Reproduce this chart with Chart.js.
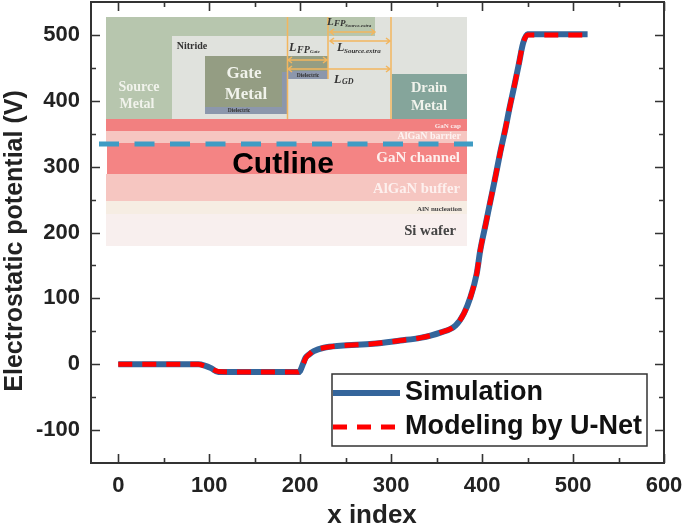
<!DOCTYPE html>
<html>
<head>
<meta charset="utf-8">
<title>Electrostatic potential</title>
<script src="https://cdn.jsdelivr.net/npm/chart.js@4"></script>
<style>
  html, body { margin: 0; background: #fff; }
  canvas { display: block; }
</style>
</head>
<body>
<canvas id="chart" width="685" height="527"></canvas>
<script>
const xIndex = [0, 60, 88, 95, 102, 110, 130, 160, 198, 200, 203, 206, 210, 215, 226, 244, 280, 310, 332, 354, 371, 380, 387, 394, 398, 404, 409, 415, 420, 426, 430, 435, 440, 445, 450, 455, 480, 516];
const simulation = [0, 0, 0, -2, -6, -12, -12, -12, -12, -10, 0, 10, 15, 20, 25, 28, 31, 36, 40, 48, 59, 77, 101, 137, 173, 213, 247, 287, 322, 360, 388, 420, 453, 487, 501, 501, 501, 501];
const modeling = [0, 0, 0, -3, -7, -11, -12, -12, -12, -10, -1, 9, 15, 21, 25, 28, 31, 36, 40, 48, 59, 77, 101, 137, 173, 213, 247, 287, 322, 360, 388, 420, 453, 487, 500, 500, 500, 500];
const seriesNames = ['Simulation', 'Modeling by U-Net'];
const xTicks = [0, 100, 200, 300, 400, 500, 600];
const yTicks = [-100, 0, 100, 200, 300, 400, 500];

const FONT = '"Liberation Sans", Arial, sans-serif';
const SERIF = '"Liberation Serif", "Times New Roman", serif';

function toPoints(ys) {
  return xIndex.map((x, i) => ({ x: x, y: ys[i] }));
}

// the device sketch pasted over the top left of the plot
function drawInset(ctx) {
  const box = (x, y, w, h, c) => { ctx.fillStyle = c; ctx.fillRect(x, y, w, h); };
  const label = (s, x, y, font, c, align) => {
    ctx.font = font;
    ctx.fillStyle = c;
    ctx.textAlign = align || 'center';
    ctx.textBaseline = 'middle';
    ctx.fillText(s, x, y);
  };
  const arrow = (x1, x2, y) => {
    ctx.beginPath();
    ctx.moveTo(x1, y); ctx.lineTo(x2, y);
    ctx.moveTo(x1 + 4, y - 3); ctx.lineTo(x1, y); ctx.lineTo(x1 + 4, y + 3);
    ctx.moveTo(x2 - 4, y - 3); ctx.lineTo(x2, y); ctx.lineTo(x2 - 4, y + 3);
    ctx.stroke();
  };

  ctx.save();
  ctx.filter = 'blur(0.5px)';

  box(106, 17, 361, 102, '#e0e2dd');
  box(106, 17, 66, 102, '#b7c6ae');
  box(106, 17, 269, 19, '#b7c6ae');
  box(205, 56, 82, 58, '#949d83');
  box(205, 107, 82, 7, '#8c97ac');
  box(282, 72, 5, 35, '#8c97ac');
  box(287, 56, 41, 15, '#949d83');
  box(287, 71, 41, 8, '#8c97ac');
  box(392, 74, 75, 45, '#85a59b');

  box(106, 119, 361, 12, '#f28080');
  box(106, 131, 361, 12, '#f6c6c1');
  box(107, 143, 360, 31, '#f48484');
  box(106, 174, 361, 27, '#f6c6c1');
  box(106, 201, 361, 13, '#f6ede3');
  box(106, 214, 361, 32, '#f8efee');

  ctx.strokeStyle = '#f2b65f';
  ctx.lineWidth = 1.5;
  ctx.beginPath();
  ctx.moveTo(287.5, 17); ctx.lineTo(287.5, 119);
  ctx.moveTo(328, 17); ctx.lineTo(328, 79);
  ctx.moveTo(391, 17); ctx.lineTo(391, 119);
  ctx.stroke();
  arrow(330, 375, 32);
  arrow(330, 390, 41);
  arrow(288, 327, 60);
  arrow(288, 390, 69);

  label('Source', 139, 87, 'bold 14px ' + SERIF, '#f1f3ec');
  label('Metal', 137, 104, 'bold 14px ' + SERIF, '#f1f3ec');
  label('Gate', 244, 74, 'bold 17px ' + SERIF, '#f1f3ec');
  label('Metal', 246, 95, 'bold 17px ' + SERIF, '#f1f3ec');
  label('Drain', 429, 88, 'bold 14.5px ' + SERIF, '#f1f3ec');
  label('Metal', 429, 106, 'bold 14.5px ' + SERIF, '#f1f3ec');
  label('Nitride', 192, 46, 'bold 10px ' + SERIF, '#333');
  label('Dielectric', 239, 111, 'bold 5.5px ' + SERIF, '#333');
  label('Dielectric', 308, 76, 'bold 5.5px ' + SERIF, '#333');

  label('L', 289, 48, 'italic bold 12px ' + SERIF, '#333', 'left');
  label('FP', 297, 50, 'italic bold 10px ' + SERIF, '#333', 'left');
  label('Gate', 310, 52, 'italic bold 5px ' + SERIF, '#333', 'left');
  label('L', 327, 22, 'italic bold 11px ' + SERIF, '#333', 'left');
  label('FP', 334, 24, 'italic bold 9px ' + SERIF, '#333', 'left');
  label('Source.extra', 345, 26, 'italic bold 5px ' + SERIF, '#333', 'left');
  label('L', 337, 48, 'italic bold 12px ' + SERIF, '#333', 'left');
  label('Source.extra', 344, 51, 'italic bold 7px ' + SERIF, '#333', 'left');
  label('L', 334, 80, 'italic bold 12px ' + SERIF, '#333', 'left');
  label('GD', 342, 82, 'italic bold 8px ' + SERIF, '#333', 'left');

  label('GaN cap', 461, 126, 'bold 7px ' + SERIF, '#fbeaea', 'right');
  label('AlGaN barrier', 461, 136, 'bold 10px ' + SERIF, '#fdf3f1', 'right');
  label('GaN channel', 460, 158, 'bold 15px ' + SERIF, '#fdf0ee', 'right');
  label('AlGaN buffer', 460, 189, 'bold 14.7px ' + SERIF, '#fdf0ee', 'right');
  label('AlN nucleation', 462, 209, 'bold 7px ' + SERIF, '#444', 'right');
  label('Si wafer', 456, 231, 'bold 14.7px ' + SERIF, '#444', 'right');

  ctx.filter = 'none';
  ctx.strokeStyle = '#3f9cc4';
  ctx.lineWidth = 5;
  ctx.setLineDash([20, 15.5]);
  ctx.beginPath();
  ctx.moveTo(99, 144); ctx.lineTo(473, 144);
  ctx.stroke();
  ctx.setLineDash([]);
  label('Cutline', 283, 165, 'bold 30px ' + FONT, '#000');
  ctx.restore();
}

function drawFrameAndTicks(chart) {
  const ctx = chart.ctx;
  const a = chart.chartArea;
  const xs = chart.scales.x;
  const ys = chart.scales.y;
  ctx.save();
  ctx.strokeStyle = '#333';
  ctx.lineWidth = 1.6;
  ctx.beginPath();
  for (let v = 0; v <= 600; v += 50) {
    const len = v % 100 === 0 ? 9 : 5;
    const p = Math.round(xs.getPixelForValue(v)) + 0.5;
    ctx.moveTo(p, a.bottom); ctx.lineTo(p, a.bottom - len);
    ctx.moveTo(p, a.top); ctx.lineTo(p, a.top + len);
  }
  for (let v = -100; v <= 500; v += 50) {
    const len = v % 100 === 0 ? 9 : 5;
    const p = Math.round(ys.getPixelForValue(v)) + 0.5;
    ctx.moveTo(a.left, p); ctx.lineTo(a.left + len, p);
    ctx.moveTo(a.right, p); ctx.lineTo(a.right - len, p);
  }
  ctx.stroke();
  ctx.lineWidth = 2;
  ctx.strokeRect(a.left, a.top, a.right - a.left, a.bottom - a.top);
  ctx.restore();
}

// axis titles sit off centre in the original, so they are placed by hand
function drawAxisTitles(ctx) {
  ctx.save();
  ctx.fillStyle = '#222';
  ctx.textAlign = 'center';
  ctx.textBaseline = 'alphabetic';
  ctx.font = 'bold 26px ' + FONT;
  ctx.fillText('x index', 372, 523);
  ctx.translate(22, 241);
  ctx.rotate(-Math.PI / 2);
  ctx.font = 'bold 25px ' + FONT;
  ctx.fillText('Electrostatic potential (V)', 0, 0);
  ctx.restore();
}

function drawLegendBox(chart) {
  const ctx = chart.ctx;
  const sets = chart.data.datasets;
  ctx.save();
  ctx.fillStyle = '#fff';
  ctx.fillRect(332, 374, 315, 72);
  ctx.strokeStyle = '#333';
  ctx.lineWidth = 1.5;
  ctx.strokeRect(332, 374, 315, 72);
  const rows = [393, 427];
  sets.forEach((ds, i) => {
    ctx.strokeStyle = ds.borderColor;
    ctx.lineWidth = ds.borderWidth;
    ctx.setLineDash(ds.borderDash || []);
    ctx.beginPath();
    ctx.moveTo(333, rows[i]); ctx.lineTo(400, rows[i]);
    ctx.stroke();
    ctx.setLineDash([]);
    ctx.fillStyle = '#111';
    ctx.font = 'bold 27px ' + FONT;
    ctx.textAlign = 'left';
    ctx.textBaseline = 'middle';
    ctx.fillText(ds.label, 405, rows[i]);
  });
  ctx.restore();
}

const sketchPlugin = {
  id: 'sketch',
  beforeDatasetsDraw(chart) { drawInset(chart.ctx); },
  afterDraw(chart) {
    drawFrameAndTicks(chart);
    drawAxisTitles(chart.ctx);
    drawLegendBox(chart);
  }
};

new Chart(document.getElementById('chart'), {
  type: 'line',
  data: {
    datasets: [
      { label: seriesNames[0], data: toPoints(simulation), borderColor: '#34659b', borderWidth: 6, order: 2 },
      { label: seriesNames[1], data: toPoints(modeling), borderColor: '#ff0000', borderWidth: 5, borderDash: [14, 10], order: 1 }
    ]
  },
  options: {
    responsive: false,
    animation: false,
    layout: { padding: { top: 2, right: 21 } },
    elements: { point: { radius: 0 }, line: { cubicInterpolationMode: 'monotone', borderCapStyle: 'butt', borderJoinStyle: 'round' } },
    plugins: { legend: { display: false }, tooltip: { enabled: false } },
    scales: {
      x: {
        type: 'linear',
        min: -30,
        max: 600,
        afterBuildTicks(scale) { scale.ticks = xTicks.map(v => ({ value: v })); },
        afterFit(scale) {
          scale.height = 64;
          scale.paddingLeft = 0;
          scale.paddingRight = 0;
        },
        grid: { display: false },
        border: { display: false },
        ticks: { maxRotation: 0, padding: 2, color: '#222', font: { family: FONT, size: 22, weight: 'bold' } }
      },
      y: {
        min: -150,
        max: 550,
        afterBuildTicks(scale) { scale.ticks = yTicks.map(v => ({ value: v })); },
        afterFit(scale) {
          scale.width = 91;
          scale.paddingTop = 0;
          scale.paddingBottom = 0;
        },
        grid: { display: false },
        border: { display: false },
        ticks: { padding: 3, color: '#222', font: { family: FONT, size: 22, weight: 'bold' } }
      }
    }
  },
  plugins: [sketchPlugin]
});
</script>
</body>
</html>
